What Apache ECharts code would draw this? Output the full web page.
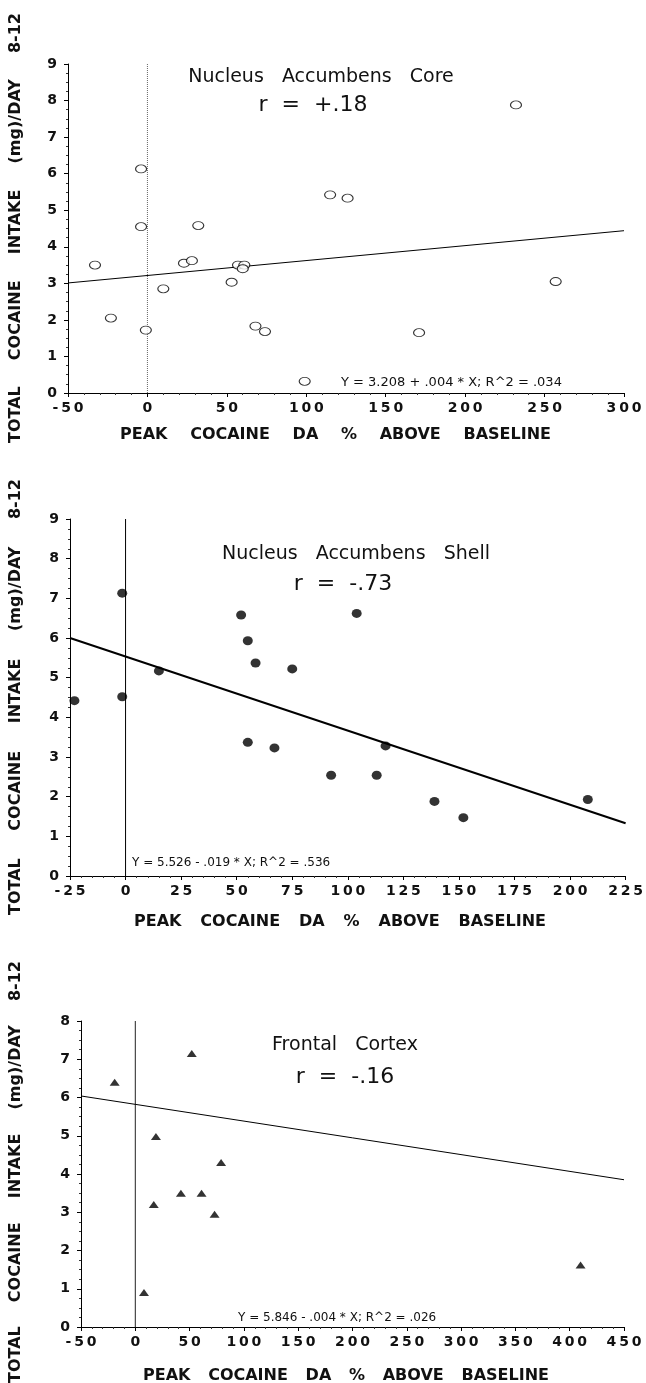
<!DOCTYPE html>
<html>
<head>
<meta charset="utf-8">
<script src="https://cdn.jsdelivr.net/npm/echarts@6/dist/echarts.min.js"></script>
<style>
  html, body { margin: 0; padding: 0; background: #fff; }
  #chart { width: 646px; height: 1383px; }
</style>
</head>
<body>
<div id="chart"></div>
<script>
// panel 1 - nucleus accumbens core (open circles)
const coreX = [-4, 232, 115, 126, -4, 32, -33, 23, 28, 57, 61, 60, 53, 10, -23, -1, 68, 74, 171, 257, 99];
const coreY = [6.13, 7.88, 5.42, 5.33, 4.55, 4.58, 3.5, 3.55, 3.62, 3.5, 3.5, 3.4, 3.03, 2.85, 2.05, 1.72, 1.83, 1.68, 1.65, 3.05, 0.32];
const coreFitX = [-50, 300];
const coreFitY = [3.01, 4.44];

// panel 2 - nucleus accumbens shell (filled circles)
const shellX = [-1.5, 52, 104, 55, 58.5, 75, 15, -23, -1.5, 55, 67, 117, 92.5, 113, 139, 152, 208];
const shellY = [7.13, 6.58, 6.62, 5.93, 5.37, 5.22, 5.17, 4.42, 4.52, 3.37, 3.23, 3.28, 2.54, 2.54, 1.88, 1.47, 1.93];
const shellFitX = [-25, 225];
const shellFitY = [6.0, 1.33];

// panel 3 - frontal cortex (triangles)
const frontalX = [-19, 52, 19, 79, 42, 61, 17, 73, 8, 410];
const frontalY = [6.4, 7.15, 4.98, 4.3, 3.5, 3.5, 3.2, 2.95, 0.9, 1.62];
const frontalFitX = [-50, 450];
const frontalFitY = [6.04, 3.85];

const titles = ['Nucleus   Accumbens   Core', 'Nucleus   Accumbens   Shell', 'Frontal   Cortex'];
const rTexts = ['r  =  +.18', 'r  =  -.73', 'r  =  -.16'];
const equations = [
  'Y = 3.208 + .004 * X; R^2 = .034',
  'Y = 5.526 - .019 * X; R^2 = .536',
  'Y = 5.846 - .004 * X; R^2 = .026'
];
const xTitle = 'PEAK  COCAINE  DA  %  ABOVE  BASELINE';
const yTitle = 'TOTAL  COCAINE  INTAKE  (mg)/DAY  8-12';

const labelFont = "'DejaVu Sans', sans-serif";

// text measuring, used to spread the letter-spaced axis titles over their span
const mctx = document.createElement('canvas').getContext('2d');
const titleFont = "bold 16px 'DejaVu Sans'";
function measure(str, font) {
  mctx.font = font;
  return mctx.measureText(str).width;
}
function spread(text, from, to, at, vertical) {
  const words = text.split(/\s+/);
  const widths = words.map(w => measure(w, titleFont));
  const total = widths.reduce((a, b) => a + b, 0);
  const gap = (Math.abs(to - from) - total) / (words.length - 1);
  let pos = 0;
  return words.map((w, i) => {
    const off = pos;
    pos += widths[i] + gap;
    const style = {
      text: w, font: titleFont, fill: '#111',
      align: 'left', verticalAlign: 'middle',
      textAlign: 'left', textVerticalAlign: 'middle'
    };
    if (vertical) {
      return { type: 'text', x: at, y: from - off, rotation: Math.PI / 2, style: style };
    }
    return { type: 'text', x: from + off, y: at, style: style };
  });
}
function label(text, x, y, size, align) {
  return {
    type: 'text', x: x, y: y,
    style: {
      text: text, font: size + "px 'DejaVu Sans'", fill: '#111',
      align: align, verticalAlign: 'middle',
      textAlign: align, textVerticalAlign: 'middle'
    }
  };
}

const pairs = (xs, ys) => xs.map((x, i) => [x, ys[i]]);
// the printed tick numbers are widely tracked
const tracked = v => String(v).split('').join('\u2009');

const grids = [
  { left: 68, top: 64, width: 556, height: 329 },
  { left: 70, top: 519, width: 556, height: 357 },
  { left: 81, top: 1021, width: 543, height: 306 }
];

function xAxis(i, min, max, interval) {
  return {
    type: 'value', gridIndex: i, min: min, max: max, interval: interval,
    axisLine: { onZero: false, lineStyle: { color: '#000', width: 1 } },
    axisTick: { length: 4, lineStyle: { color: '#000' } },
    minorTick: { show: true, splitNumber: 5, length: 2, lineStyle: { color: '#333' } },
    splitLine: { show: false },
    axisLabel: {
      color: '#111', fontFamily: labelFont, fontSize: 14, fontWeight: 'bold',
      margin: 8, formatter: tracked
    }
  };
}
function yAxis(i, max) {
  return {
    type: 'value', gridIndex: i, min: 0, max: max, interval: 1,
    axisLine: { show: true, onZero: false, lineStyle: { color: '#000', width: 1 } },
    axisTick: { show: true, length: 4, lineStyle: { color: '#000' } },
    minorTick: { show: true, splitNumber: 4, length: 2, lineStyle: { color: '#333' } },
    splitLine: { show: false },
    axisLabel: { color: '#111', fontFamily: labelFont, fontSize: 14, fontWeight: 'bold', margin: 11 }
  };
}
function fitLine(i, xs, ys, width) {
  return {
    type: 'line', xAxisIndex: i, yAxisIndex: i, data: pairs(xs, ys),
    showSymbol: false, silent: true, z: 1,
    lineStyle: { color: '#000', width: width }
  };
}
function zeroLine(i, top, type, color) {
  return {
    type: 'line', xAxisIndex: i, yAxisIndex: i, data: [[0, 0], [0, top]],
    showSymbol: false, silent: true, z: 1,
    lineStyle: { color: color, width: 1, type: type }
  };
}

const graphics = [].concat(
  [
    label(titles[0], 321, 77, 19, 'center'),
    label(rTexts[0], 313, 105, 22, 'center'),
    label(equations[0], 341, 383, 13, 'left'),
    label(titles[1], 356, 554, 19, 'center'),
    label(rTexts[1], 343, 584, 22, 'center'),
    label(equations[1], 132, 863, 12, 'left'),
    label(titles[2], 345, 1045, 19, 'center'),
    label(rTexts[2], 345, 1077, 22, 'center'),
    label(equations[2], 238, 1318, 12, 'left')
  ],
  spread(xTitle, 120, 551, 435, false),
  spread(xTitle, 134, 546, 922, false),
  spread(xTitle, 143, 549, 1376, false),
  spread(yTitle, 443, 13, 16, true),
  spread(yTitle, 915, 479, 16, true),
  spread(yTitle, 1383, 961, 16, true)
);

const option = {
  animation: false,
  backgroundColor: '#fff',
  grid: grids,
  xAxis: [xAxis(0, -50, 300, 50), xAxis(1, -25, 225, 25), xAxis(2, -50, 450, 50)],
  yAxis: [yAxis(0, 9), yAxis(1, 9), yAxis(2, 8)],
  series: [
    zeroLine(0, 9, 'dotted', '#666'),
    fitLine(0, coreFitX, coreFitY, 1),
    {
      type: 'scatter', xAxisIndex: 0, yAxisIndex: 0, data: pairs(coreX, coreY),
      symbol: 'circle', symbolSize: [11, 8], z: 3,
      itemStyle: { color: '#fff', borderColor: '#000', borderWidth: 1 }
    },
    zeroLine(1, 9, 'solid', '#000'),
    fitLine(1, shellFitX, shellFitY, 2),
    {
      type: 'scatter', xAxisIndex: 1, yAxisIndex: 1, data: pairs(shellX, shellY),
      symbol: 'circle', symbolSize: [10, 9], z: 3,
      itemStyle: { color: '#000' }
    },
    zeroLine(2, 8, 'solid', '#222'),
    fitLine(2, frontalFitX, frontalFitY, 1),
    {
      type: 'scatter', xAxisIndex: 2, yAxisIndex: 2, data: pairs(frontalX, frontalY),
      symbol: 'triangle', symbolSize: [10, 7], z: 3,
      itemStyle: { color: '#000' }
    }
  ],
  graphic: graphics
};

const chart = echarts.init(document.getElementById('chart'), null, { renderer: 'canvas' });
chart.setOption(option);
</script>
</body>
</html>
